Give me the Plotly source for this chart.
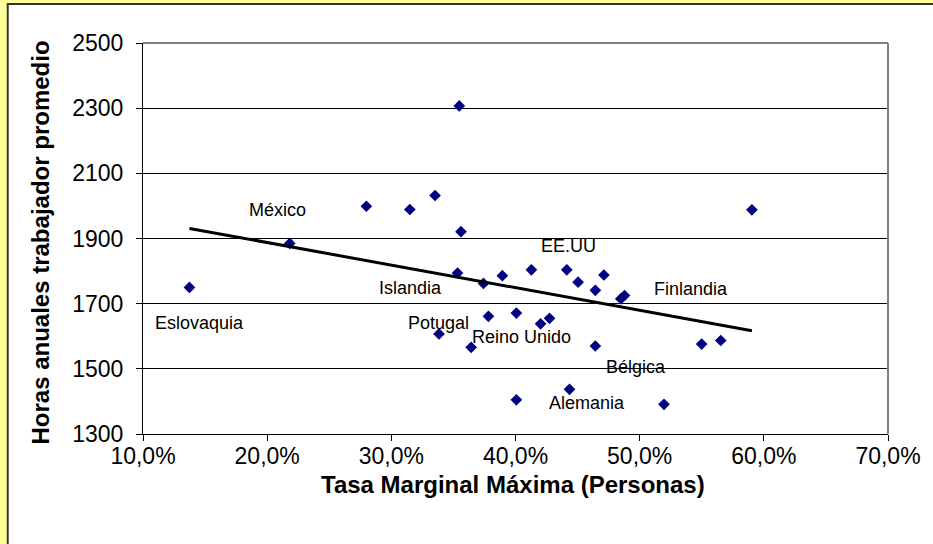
import plotly.graph_objects as go

# Data (x = tasa marginal máxima %, y = horas anuales)
tasa = [13.74, 21.82, 27.99, 31.49, 33.52, 35.61, 35.33, 37.42, 38.94, 41.28,
        44.13, 45.04, 47.12, 46.43, 48.48, 48.78, 37.82, 40.07, 42.02, 42.74,
        33.84, 36.43, 46.43, 54.99, 56.53, 44.35, 40.07, 51.96, 59.04, 35.47]
horas = [1750, 1885, 1999, 1989, 2032, 1921, 1794, 1762, 1786, 1804,
         1804, 1766, 1788, 1741, 1715, 1725, 1661, 1671, 1638, 1655,
         1607, 1566, 1570, 1576, 1587, 1437, 1405, 1391, 1988, 2307]

trend_x = [13.74, 59.04]
trend_y = [1931, 1617]

label_text = ["México", "Islandia", "Eslovaquia", "Potugal", "Reino Unido",
              "EE.UU", "Finlandia", "Bélgica", "Alemania"]
label_x = [20.82, 31.52, 14.55, 33.79, 40.52, 44.29, 54.15, 49.69, 45.73]
label_y = [1986, 1748, 1642, 1642, 1599, 1878, 1746, 1505, 1396]

x_ticks = [10, 20, 30, 40, 50, 60, 70]
x_ticktext = ["10,0%", "20,0%", "30,0%", "40,0%", "50,0%", "60,0%", "70,0%"]
y_ticks = [1300, 1500, 1700, 1900, 2100, 2300, 2500]

FONT = "Liberation Sans, Arial, sans-serif"

fig = go.Figure()
fig.add_trace(go.Scatter(x=tasa, y=horas, mode="markers",
                         marker=dict(symbol="diamond", size=9, color="#000080"),
                         showlegend=False, hoverinfo="x+y"))
fig.add_trace(go.Scatter(x=trend_x, y=trend_y, mode="lines",
                         line=dict(color="black", width=3), showlegend=False))

for t, lx, ly in zip(label_text, label_x, label_y):
    fig.add_annotation(x=lx, y=ly, xref="x", yref="y", text=t, showarrow=False,
                       font=dict(family=FONT, size=18, color="black"))

L, R, T, B = 143, 41, 43, 110
W, H = 933, 544
pw, ph = W - L - R, H - T - B

def px_x(p):
    return (p - L) / pw

def px_y(p):
    return (H - B - p) / ph

shapes = [
    # white chart area with dark border on yellow page
    dict(type="rect", xref="paper", yref="paper",
         x0=px_x(7), x1=px_x(W + 20), y0=px_y(H + 20), y1=px_y(4),
         fillcolor="white", line=dict(color="#333333", width=2), layer="below"),
    # plot frame top & right (grey)
    dict(type="line", xref="paper", yref="paper", x0=0, x1=1, y0=1, y1=1,
         line=dict(color="#808080", width=2)),
    dict(type="line", xref="paper", yref="paper", x0=1, x1=1, y0=0, y1=1,
         line=dict(color="#808080", width=2)),
]

fig.update_layout(
    width=W, height=H,
    margin=dict(l=L, r=R, t=T, b=B),
    paper_bgcolor="#FFFF99", plot_bgcolor="white",
    font=dict(family=FONT, color="black"),
    shapes=shapes,
    xaxis=dict(range=[10, 70], tickvals=x_ticks, ticktext=x_ticktext,
               showgrid=False, zeroline=False, showline=True, linecolor="black", linewidth=1,
               ticks="outside", ticklen=6, tickcolor="black", ticklabelstandoff=-5,
               tickfont=dict(family=FONT, size=23, color="black")),
    yaxis=dict(range=[1300, 2500], tickvals=y_ticks,
               showgrid=True, gridcolor="black", gridwidth=1, zeroline=False,
               showline=True, linecolor="black", linewidth=1,
               ticks="outside", ticklen=6, tickcolor="black", ticklabelstandoff=8,
               tickfont=dict(family=FONT, size=23, color="black")),
    annotations=list(fig.layout.annotations) + [
        dict(text="<b>Tasa Marginal Máxima (Personas)</b>", xref="paper", yref="paper",
             x=px_x(515), y=px_y(485), showarrow=False, xanchor="center", yanchor="middle",
             font=dict(family=FONT, size=24, color="black")),
        dict(text="<b>Horas anuales trabajador promedio</b>", xref="paper", yref="paper",
             x=px_x(40), y=px_y(243), showarrow=False, textangle=-90,
             xanchor="center", yanchor="middle",
             font=dict(family=FONT, size=24, color="black")),
    ],
)

fig.write_html("out.html", config={"displayModeBar": False},
               post_script="document.body.style.margin='0px';")
